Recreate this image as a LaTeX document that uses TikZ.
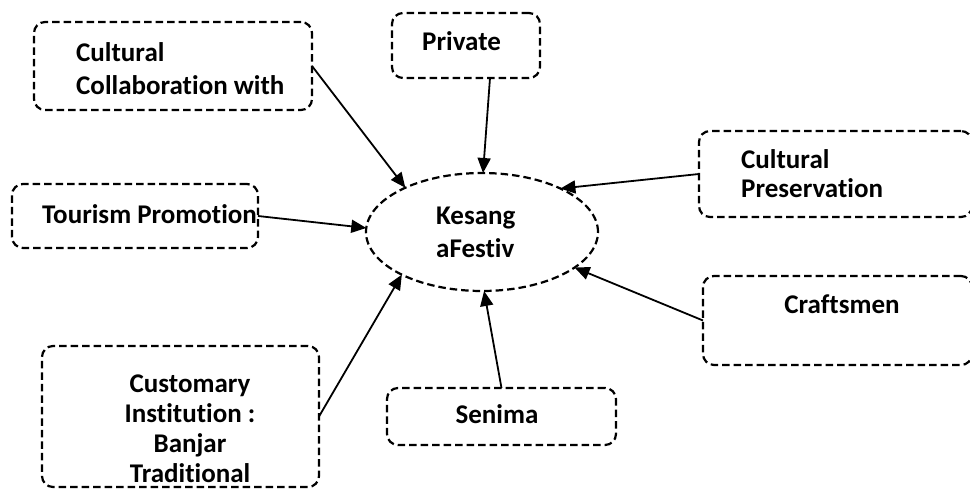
\documentclass[tikz,border=0pt]{standalone}
\usepackage{fontspec}
\setmainfont{Carlito}[Ligatures={NoCommon}]
\usetikzlibrary{shapes.geometric,arrows.meta,calc}
\tikzset{
  boxst/.style={draw, line width=2.2pt, dash pattern=on 7.5pt off 4pt, rounded corners=11pt, inner sep=0pt, outer sep=0pt},
  ellst/.style={draw, ellipse, line width=2.2pt, dash pattern=on 7.5pt off 4pt, inner sep=0pt, outer sep=0pt, minimum width=232pt, minimum height=118pt},
  txt/.style={inner sep=0pt, font=\fontsize{27}{30}\selectfont\bfseries},
  arr/.style={line width=1.8pt, -{Triangle[length=15pt,width=13pt]}}
}
\begin{document}
\begin{tikzpicture}[x=1pt,y=-1pt]
\clip (0,0) rectangle (970,493);
\fill[white] (0,0) rectangle (970,493);
% boxes
\node[boxst, minimum width=278pt, minimum height=88pt] (b1) at (173,66) {};
\node[boxst, minimum width=148pt, minimum height=65pt] (priv) at (466,45.5) {};
\node[boxst, minimum width=273pt, minimum height=86pt] (cp) at (835.5,174) {};
\node[boxst, minimum width=246pt, minimum height=64pt] (tour) at (135,216) {};
\node[boxst, minimum width=269pt, minimum height=89pt] (craft) at (837.5,320.5) {};
\node[boxst, minimum width=277pt, minimum height=141pt] (cust) at (180.5,416.5) {};
\node[boxst, minimum width=229pt, minimum height=57pt] (sen) at (501.5,416.5) {};
\node[ellst] (ell) at (482,232) {};
% texts
\node[txt, anchor=base west] (t1a) at (76,61) {Cultural};
\node[txt, anchor=base west] (t1b) at (76,94) {Collaboration with};
\node[txt, anchor=base west] (tp) at (422,50) {Private};
\node[txt, anchor=base west] (tca) at (741,168) {Cultural};
\node[txt, anchor=base west] (tcb) at (741,197) {Preservation};
\node[txt, anchor=base west] (tt) at (42,223) {Tourism Promotion};
\node[txt, anchor=base west] (tka) at (436,224) {Kesang};
\node[txt, anchor=base west] (tkb) at (436,257) {aFestiv};
\node[txt, anchor=base] (tcr) at (842,313) {Craftsmen};
\node[txt, anchor=base] (tua) at (190,392) {Customary};
\node[txt, anchor=base] (tub) at (190,422) {Institution :};
\node[txt, anchor=base] (tuc) at (190,452) {Banjar};
\node[txt, anchor=base] (tud) at (190,482) {Traditional};
\node[txt, anchor=base] (ts) at (497,423) {Senima};
% arrows
\draw[arr] (b1.east) -- (ell.150);
\draw[arr] ($(priv.south)+(24,0)$) -- (ell.89);
\draw[arr] (cp.west) -- (ell.29);
\draw[arr] (tour.east) -- (ell.178);
\draw[arr] (craft.west) -- (ell.-21);
\draw[arr] (sen.north) -- (ell.-88);
\draw[arr] (cust.east) -- (ell.208);
\end{tikzpicture}
\end{document}
